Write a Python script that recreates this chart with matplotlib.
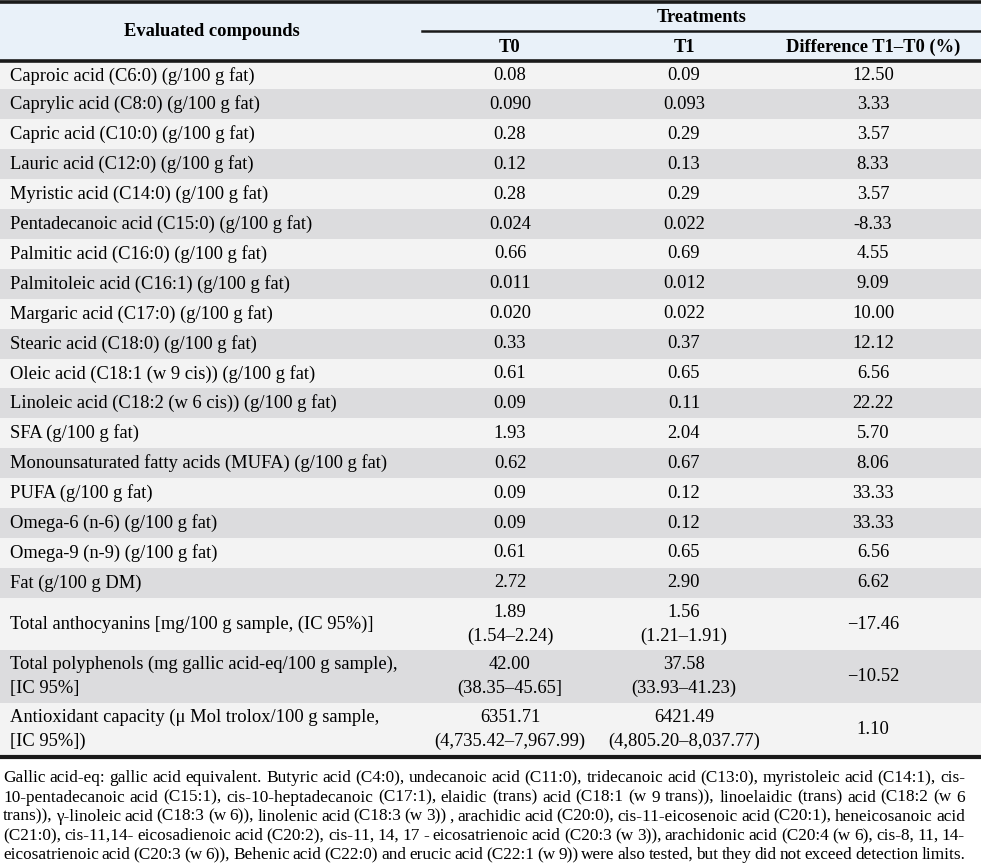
import matplotlib
matplotlib.use("Agg")
import matplotlib.pyplot as plt
from matplotlib.patches import Rectangle

# table content
compounds = [
    "Caproic acid (C6:0) (g/100 g fat)",
    "Caprylic acid (C8:0) (g/100 g fat)",
    "Capric acid (C10:0) (g/100 g fat)",
    "Lauric acid (C12:0) (g/100 g fat)",
    "Myristic acid (C14:0) (g/100 g fat)",
    "Pentadecanoic acid (C15:0) (g/100 g fat)",
    "Palmitic acid (C16:0) (g/100 g fat)",
    "Palmitoleic acid (C16:1) (g/100 g fat)",
    "Margaric acid (C17:0) (g/100 g fat)",
    "Stearic acid (C18:0) (g/100 g fat)",
    "Oleic acid (C18:1 (w 9 cis)) (g/100 g fat)",
    "Linoleic acid (C18:2 (w 6 cis)) (g/100 g fat)",
    "SFA (g/100 g fat)",
    "Monounsaturated fatty acids (MUFA) (g/100 g fat)",
    "PUFA (g/100 g fat)",
    "Omega-6 (n-6) (g/100 g fat)",
    "Omega-9 (n-9) (g/100 g fat)",
    "Fat (g/100 g DM)",
    "Total anthocyanins [mg/100 g sample, (IC 95%)]",
    "Total polyphenols (mg gallic acid-eq/100 g sample),\n[IC 95%]",
    "Antioxidant capacity (\u03bc Mol trolox/100 g sample,\n[IC 95%])",
]
t0 = ["0.08", "0.090", "0.28", "0.12", "0.28", "0.024", "0.66", "0.011", "0.020",
      "0.33", "0.61", "0.09", "1.93", "0.62", "0.09", "0.09", "0.61", "2.72",
      "1.89\n(1.54\u20132.24)", "42.00\n(38.35\u201345.65]", "6351.71\n(4,735.42\u20137,967.99)"]
t1 = ["0.09", "0.093", "0.29", "0.13", "0.29", "0.022", "0.69", "0.012", "0.022",
      "0.37", "0.65", "0.11", "2.04", "0.67", "0.12", "0.12", "0.65", "2.90",
      "1.56\n(1.21\u20131.91)", "37.58\n(33.93\u201341.23)", "6421.49\n(4,805.20\u20138,037.77)"]
diff = ["12.50", "3.33", "3.57", "8.33", "3.57", "-8.33", "4.55", "9.09", "10.00",
        "12.12", "6.56", "22.22", "5.70", "8.06", "33.33", "33.33", "6.56", "6.62",
        "\u221217.46", "\u221210.52", "1.10"]

col_headers = ["T0", "T1", "Difference T1\u2013T0 (%)"]

note_lines = [
    "Gallic acid-eq: gallic acid equivalent. Butyric acid (C4:0), undecanoic acid (C11:0), tridecanoic acid (C13:0), myristoleic acid (C14:1), cis-",
    "10-pentadecanoic acid (C15:1), cis-10-heptadecanoic (C17:1), elaidic (trans) acid (C18:1 (w 9 trans)), linoelaidic (trans) acid (C18:2 (w 6",
    "trans)), \u03b3-linoleic acid (C18:3 (w 6)), linolenic acid (C18:3 (w 3)) , arachidic acid (C20:0), cis-11-eicosenoic acid (C20:1), heneicosanoic acid",
    "(C21:0), cis-11,14- eicosadienoic acid (C20:2), cis-11, 14, 17 - eicosatrienoic acid (C20:3 (w 3)), arachidonic acid (C20:4 (w 6), cis-8, 11, 14-",
    "eicosatrienoic acid (C20:3 (w 6)), Behenic acid (C22:0) and erucic acid (C22:1 (w 9)) were also tested, but they did not exceed detection limits.",
]

plt.rcParams['font.family'] = ['Liberation Serif', 'DejaVu Serif']

W, H = 981, 863
fig = plt.figure(figsize=(W / 100, H / 100), dpi=100)
ax = fig.add_axes([0, 0, 1, 1])
ax.set_xlim(0, W)
ax.set_ylim(H, 0)
ax.axis('off')

fs = 13.3
ink = "#1a1a1a"
header_bg = "#e9f1f9"
row_bg = ["#f3f3f3", "#dcdcde"]
col_x = [510, 684, 873]

# header
ax.add_patch(Rectangle((0, 3), W, 57, color=header_bg, lw=0))
ax.plot([0, W], [1.6, 1.6], color=ink, lw=2.6)
ax.text(212, 31.5, "Evaluated compounds", ha='center', va='center', fontsize=fs, fontweight='bold')
ax.text(702, 17, "Treatments", ha='center', va='center', fontsize=fs, fontweight='bold')
ax.plot([422, W], [31, 31], color=ink, lw=1.8)
for x, h in zip(col_x, col_headers):
    ax.text(x, 47, h, ha='center', va='center', fontsize=fs, fontweight='bold')
ax.plot([0, W], [61, 61], color=ink, lw=2.6)

# body rows
y = 62.5
for i, name in enumerate(compounds):
    tall = "\n" in t0[i]
    if tall:
        h = 52.5
    elif i == 0:
        h = 27
    else:
        h = 29.9
    ax.add_patch(Rectangle((0, y), W, h, color=row_bg[i % 2], lw=0))
    yc = y + h / 2
    ax.text(10, yc, name, ha='left', va='center', fontsize=fs, linespacing=1.5)
    ax.text(col_x[0], yc, t0[i], ha='center', va='center', fontsize=fs, linespacing=1.5)
    ax.text(col_x[1], yc, t1[i], ha='center', va='center', fontsize=fs, linespacing=1.5)
    ax.text(col_x[2], yc, diff[i], ha='center', va='center', fontsize=fs)
    y += h
ax.plot([0, W], [y + 2, y + 2], color=ink, lw=3)

# footnote, justified line by line
fig.canvas.draw()
r = fig.canvas.get_renderer()
x0, x1 = 3, 965
for k, line in enumerate(note_lines):
    yl = y + 23 + k * 19.2
    words = line.split(' ')
    texts = [ax.text(0, yl, w, ha='left', va='center', fontsize=12.4) for w in words]
    widths = [t.get_window_extent(r).width for t in texts]
    gap = (x1 - x0 - sum(widths)) / (len(words) - 1)
    xx = x0
    for t, w in zip(texts, widths):
        t.set_x(xx)
        xx += w + gap

fig.savefig("out.png", dpi=100)
